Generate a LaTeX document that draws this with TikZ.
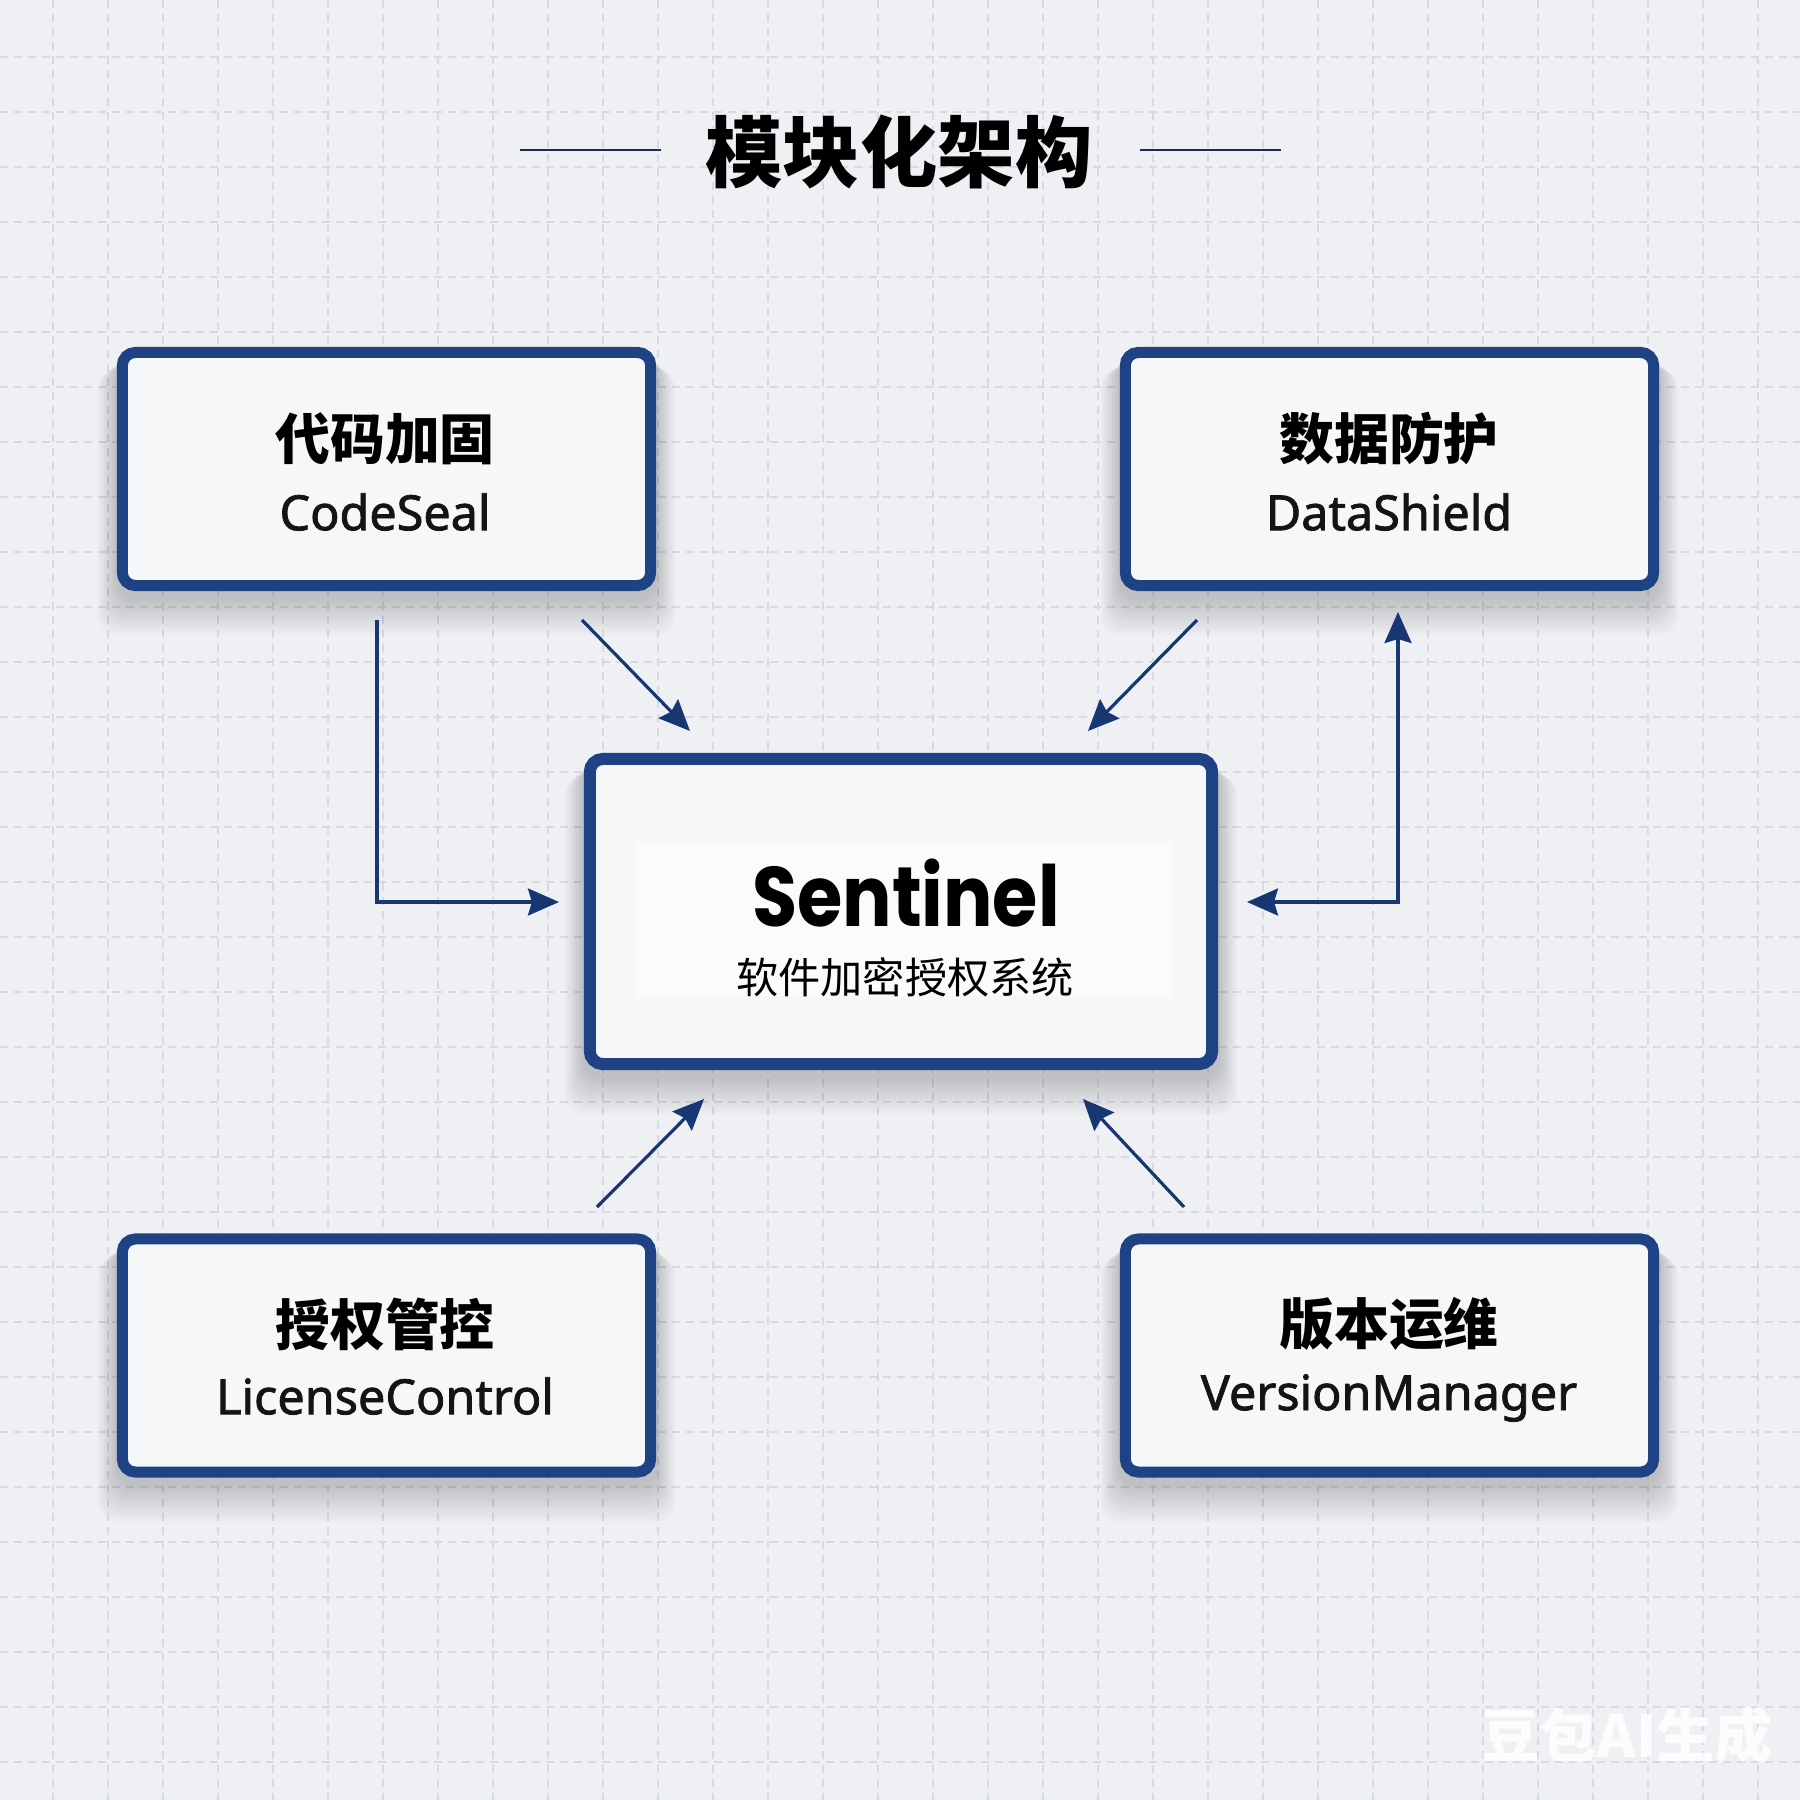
\documentclass[tikz,border=0pt]{standalone}
\usepackage{fontspec}
\newfontfamily\cjk{Noto Sans CJK SC}
\newfontfamily\latinf[FakeBold=1.6]{Noto Sans}
\newfontfamily\popf{Poppins}
\usetikzlibrary{arrows.meta,calc,backgrounds}
\definecolor{bg}{HTML}{EEF0F3}
\definecolor{gridc}{HTML}{D7DAE0}
\definecolor{navy}{HTML}{1E4284}
\definecolor{arrowc}{HTML}{173672}
\definecolor{boxfill}{HTML}{F6F7F8}
\definecolor{titleline}{HTML}{1E2B55}
\newcommand\boxshadow[1]{%
  \foreach \i in {1,...,12} {
    \fill[black, opacity=0.015, rounded corners=0.2cm]
      ($(#1.north west)+({-\i*1.6},{8+\i*1.2})$) rectangle ($(#1.south east)+({\i*1.6},{6+\i*3.2})$);
  }}
\begin{document}
\begin{tikzpicture}[x=0.01cm,y=-0.01cm,
  modbox/.style={draw=navy, line width=0.11cm, fill=boxfill, rounded corners=0.13cm,
    minimum width=5.28cm, minimum height=2.33cm, inner sep=0pt},
  zh/.style={font=\cjk\bfseries\fontsize{15.6}{18}\selectfont, text=black, inner sep=0pt},
  en/.style={font=\latinf\fontsize{13.8}{17}\selectfont, text=black!92, inner sep=0pt},
  connector/.style={draw=arrowc, line width=0.032cm, -{Stealth[length=0.31cm,width=0.27cm,inset=0.04cm]}},
  connector2/.style={draw=arrowc, line width=0.032cm, {Stealth[length=0.31cm,width=0.27cm,inset=0.04cm]}-{Stealth[length=0.31cm,width=0.27cm,inset=0.04cm]}},
  gridline/.style={draw=gridc, line width=0.012cm, dash pattern=on 0.08cm off 0.06cm}
]
\useasboundingbox (0,0) rectangle (1800,1800);

% title
\node[font=\cjk\bfseries\fontsize{22}{26}\selectfont, inner sep=0pt] (title) at (899,152) {模块化架构};
\coordinate (tla) at (520,150); \coordinate (tlb) at (661,150);
\coordinate (tra) at (1140,150); \coordinate (trb) at (1281,150);
\draw[titleline, line width=0.025cm] (tla) -- (tlb);
\draw[titleline, line width=0.025cm] (tra) -- (trb);

% boxes
\node[modbox] (cs) at (386.5,469) {};
\node[modbox] (ds) at (1389.5,469) {};
\node[modbox] (lc) at (386.5,1355.5) {};
\node[modbox] (vm) at (1389.5,1355.5) {};
\node[modbox, minimum width=6.22cm, minimum height=3.05cm, line width=0.12cm] (sen) at (901,911.5) {};
\fill[white, opacity=0.55] (637,844) rectangle (1171,996);

\begin{scope}[on background layer]
  \fill[bg] (0,0) rectangle (1800,1800);
  \foreach \k in {0,...,32} {
    \draw[gridline] ({53+55*\k},0) -- ({53+55*\k},1800);
    \draw[gridline] (0,{57+55*\k}) -- (1800,{57+55*\k});
  }
  \boxshadow{cs}
  \boxshadow{ds}
  \boxshadow{lc}
  \boxshadow{vm}
  \boxshadow{sen}
\end{scope}

% box texts
\node[zh] (cszh) at (385,439) {代码加固};
\node[en] (csen) at (385,512) {CodeSeal};
\node[zh] (dszh) at (1389,439) {数据防护};
\node[en] (dsen) at (1389,512) {DataShield};
\node[zh] (lczh) at (385,1324) {授权管控};
\node[en] (lcen) at (385,1396) {LicenseControl};
\node[zh] (vmzh) at (1389,1324) {版本运维};
\node[en] (vmen) at (1389,1398) {VersionManager};
\node[font=\popf\bfseries\fontsize{24}{28}\selectfont, inner sep=0pt] (sent) at (906,893) {\scalebox{0.87}[1]{Sentinel}};
\node[font=\cjk\fontsize{12}{14}\selectfont, inner sep=0pt] (sensub) at (905,977) {软件加密授权系统};

% connectors
\coordinate (a1s) at (377,620); \coordinate (a1e) at (559,902);
\draw[connector] (a1s) |- (a1e);
\coordinate (a2s) at (582,620); \coordinate (a2e) at (690,731);
\draw[connector] (a2s) -- (a2e);
\coordinate (a3s) at (1197,620); \coordinate (a3e) at (1088,731);
\draw[connector] (a3s) -- (a3e);
\coordinate (a4s) at (1247,902); \coordinate (a4e) at (1398,612);
\draw[connector2] (a4s) -| (a4e);
\coordinate (a5s) at (597,1207); \coordinate (a5e) at (704,1099);
\draw[connector] (a5s) -- (a5e);
\coordinate (a6s) at (1184,1207); \coordinate (a6e) at (1083,1099);
\draw[connector] (a6s) -- (a6e);

% watermark
\node[font=\cjk\bfseries\fontsize{16.5}{20}\selectfont, text=white, opacity=0.85, inner sep=0pt] (wm) at (1627,1735) {豆包AI生成};
\end{tikzpicture}
\end{document}
